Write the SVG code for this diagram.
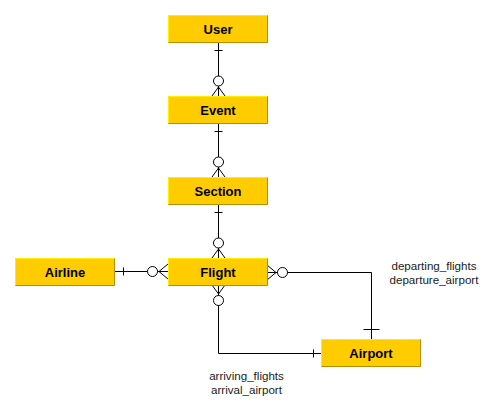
<svg xmlns="http://www.w3.org/2000/svg" width="496" height="415" viewBox="0 0 496 415">
<style>
.box{fill:#ffcc00}
.hi{stroke:#ffee00;stroke-width:1;fill:none}
.sh{stroke:#b38f00;stroke-width:1;fill:none}
.t{font-family:"Liberation Sans",Arial,sans-serif;font-weight:bold;font-size:13px;fill:#000;text-anchor:middle}
.lbl{font-family:"Liberation Sans",Arial,sans-serif;font-size:11.6px;fill:#222;text-anchor:middle}
.c{stroke:#000;stroke-width:1;fill:none}
.o{stroke:#000;stroke-width:1;fill:#fff}
</style>
<rect width="496" height="415" fill="#fff"/>
<g id="connectors">
  <!-- User - Event -->
  <path class="c" d="M218.5 42 V96 M214.5 50.5 H222.5 M218.5 87 L212 96 M218.5 87 L225 96"/>
  <circle class="o" cx="218.5" cy="81" r="5"/>
  <!-- Event - Section -->
  <path class="c" d="M218.5 123 V177 M214.5 131.5 H222.5 M218.5 168 L212 177 M218.5 168 L225 177"/>
  <circle class="o" cx="218.5" cy="162" r="5"/>
  <!-- Section - Flight -->
  <path class="c" d="M218.5 204 V258 M214.5 212.5 H222.5 M218.5 249 L212 258 M218.5 249 L225 258"/>
  <circle class="o" cx="218.5" cy="243" r="5"/>
  <!-- Airline - Flight -->
  <path class="c" d="M114 271.5 H168 M123.5 267.5 V275.5 M159 271.5 L168 264 M159 271.5 L168 279"/>
  <circle class="o" cx="152.5" cy="271.5" r="5"/>
  <!-- Flight - Airport (departing) -->
  <path class="c" d="M267 272.5 H371.5 V339 M363.5 329.5 H379.5 M276 272.5 L267 265 M276 272.5 L267 280"/>
  <circle class="o" cx="282.5" cy="272.5" r="5"/>
  <!-- Flight - Airport (arriving) -->
  <path class="c" d="M218.5 285 V353.5 H321.5 M313.5 349.5 V357.5 M218.5 294 L212 285 M218.5 294 L225 285"/>
  <circle class="o" cx="218.5" cy="300.5" r="5"/>
  <text class="lbl" x="434" y="270">departing_flights</text>
  <text class="lbl" x="434" y="284">departure_airport</text>
  <text class="lbl" x="246.5" y="380">arriving_flights</text>
  <text class="lbl" x="246.5" y="394">arrival_airport</text>
</g>
<g id="user">
  <rect class="box" x="168" y="15" width="100" height="28"/>
  <path class="hi" d="M168.5 42.5 V15.5 H267.5"/>
  <path class="sh" d="M168.5 42.5 H267.5 V15.5"/>
  <text class="t" x="218" y="33.5">User</text>
</g>
<g id="event">
  <rect class="box" x="168" y="96" width="100" height="28"/>
  <path class="hi" d="M168.5 123.5 V96.5 H267.5"/>
  <path class="sh" d="M168.5 123.5 H267.5 V96.5"/>
  <text class="t" x="218" y="114.5">Event</text>
</g>
<g id="section">
  <rect class="box" x="168" y="177" width="100" height="28"/>
  <path class="hi" d="M168.5 204.5 V177.5 H267.5"/>
  <path class="sh" d="M168.5 204.5 H267.5 V177.5"/>
  <text class="t" x="218" y="195.5">Section</text>
</g>
<g id="flight">
  <rect class="box" x="168" y="258" width="100" height="28"/>
  <path class="hi" d="M168.5 285.5 V258.5 H267.5"/>
  <path class="sh" d="M168.5 285.5 H267.5 V258.5"/>
  <text class="t" x="218" y="276.5">Flight</text>
</g>
<g id="airline">
  <rect class="box" x="15" y="258" width="100" height="28"/>
  <path class="hi" d="M15.5 285.5 V258.5 H114.5"/>
  <path class="sh" d="M15.5 285.5 H114.5 V258.5"/>
  <text class="t" x="65" y="276.5">Airline</text>
</g>
<g id="airport">
  <rect class="box" x="321" y="339" width="100" height="28"/>
  <path class="hi" d="M321.5 366.5 V339.5 H420.5"/>
  <path class="sh" d="M321.5 366.5 H420.5 V339.5"/>
  <text class="t" x="371" y="357.5">Airport</text>
</g>
</svg>
